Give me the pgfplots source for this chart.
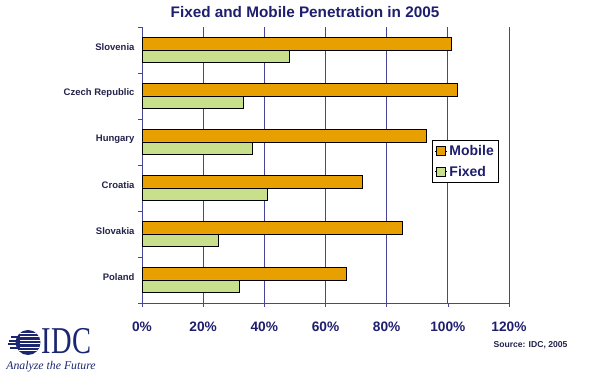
\documentclass[border=0pt]{standalone}
\usepackage{pgfplots}
\pgfplotsset{compat=1.18}
\usepackage{fontspec}
\setmainfont{Liberation Sans}
\newfontfamily\seriffont{Liberation Serif}
\usepackage{graphicx}
\definecolor{mob}{RGB}{232,160,0}
\definecolor{fix}{RGB}{200,224,140}
\definecolor{navy}{RGB}{30,30,110}
\definecolor{catc}{RGB}{35,35,75}
\definecolor{gridc}{RGB}{70,70,150}
\definecolor{logoblue}{RGB}{27,37,112}

\begin{document}
\begin{tikzpicture}[x=1pt,y=1pt]
\path[use as bounding box] (0,0) rectangle (589,379);
\begin{axis}[
  at={(142pt,76pt)}, anchor=south west,
  scale only axis, width=367pt, height=276pt,
  xbar, bar width=12.5pt,
  xmin=0, xmax=120, ymin=-0.5, ymax=5.5,
  xtick={0,20,40,60,80,100,120},
  xticklabels={0\%,20\%,40\%,60\%,80\%,100\%,120\%},
  ytick={-0.5,0.5,1.5,2.5,3.5,4.5,5.5},
  y tick label as interval,
  yticklabels={Poland,Slovakia,Croatia,Hungary,Czech Republic,Slovenia},
  axis x line*=bottom, axis y line*=left,
  axis line style={draw=gridc, line width=0.8pt, -},
  xmajorgrids, major grid style={draw=gridc, line width=0.8pt},
  tick align=outside, major tick length=4pt,
  tick style={draw=gridc, line width=0.6pt},
  xticklabel style={font=\fontsize{13.7}{16}\selectfont\bfseries, text=navy, anchor=base, yshift=-24.5pt},
  yticklabel style={font=\fontsize{9.5}{11}\selectfont\bfseries, text=catc, yshift=3pt},
  legend image code/.code={\path (0pt,0pt) -- (12pt,0pt); \draw[#1, draw=black, line width=0.6pt] (1pt,-4.5pt) rectangle (10pt,4.5pt);},
  legend style={at={(0.789,0.5906)}, anchor=north west, draw=black, line width=0.6pt, fill=white,
    font=\fontsize{14}{16}\selectfont\bfseries, text=navy, inner xsep=3pt, inner ysep=3pt, row sep=5pt,
    cells={anchor=west}},
]
\addplot[draw=black, fill=mob, line width=0.6pt, bar shift=6.25pt] coordinates {
  (66.9,0) (85.1,1) (72.1,2) (93.1,3) (103.1,4) (101,5)};
\addlegendentry{Mobile}
\addplot[draw=black, fill=fix, line width=0.6pt, bar shift=-6.25pt] coordinates {
  (31.8,0) (25,1) (41,2) (36.2,3) (33.1,4) (48,5)};
\addlegendentry{Fixed}
\end{axis}
\node[font=\fontsize{15.3}{18}\selectfont\bfseries, text=navy] at (305,367) {Fixed and Mobile Penetration in 2005};
\node[anchor=east, font=\fontsize{8.6}{10}\selectfont\bfseries, text=catc] at (571,34) {Source: IDC, 2005};
% logo
\begin{scope}
\clip (28,36.5) circle (12.5);
\fill[logoblue] (14,23) rectangle (42,50);
\foreach \yy in {27.5,31,34.5,38,41.5,45} {\fill[white] (14,\yy) rectangle (42,\yy+1.1);}
\end{scope}
\foreach \yy/\xx in {30/10,33.5/8,37/9,40.5/11} {\fill[logoblue] (\xx,\yy) rectangle (20,\yy+2);}
\node[text=logoblue, inner sep=0pt] at (66.5,38) {\scalebox{1}[1.33]{\seriffont\fontsize{28.5}{30}\selectfont IDC}};
\node[text=logoblue, inner sep=0pt] at (51,12.5) {\seriffont\itshape\fontsize{11.8}{13}\selectfont Analyze the Future};
\end{tikzpicture}
\end{document}
